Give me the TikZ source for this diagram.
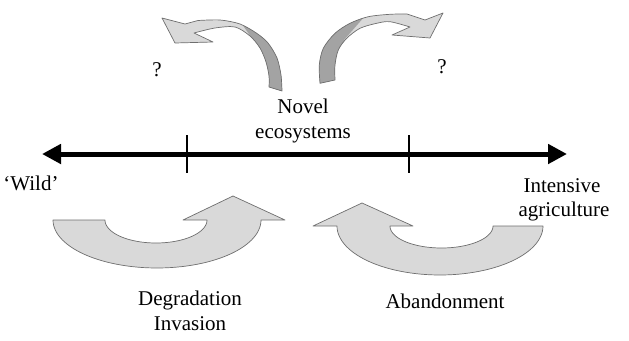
\documentclass[tikz,border=0pt]{standalone}
\usepackage{fontspec}
\setmainfont{Liberation Serif}
\usetikzlibrary{arrows.meta}
\definecolor{arrowlight}{HTML}{D9D9D9}
\definecolor{arrowdark}{HTML}{A3A3A3}
\definecolor{arrowedge}{HTML}{6E6E6E}
\begin{document}
\begin{tikzpicture}[x=1pt,y=-1pt,
  lbl/.style={font=\fontsize{21}{25}\selectfont, inner sep=0pt, anchor=base},
  axisline/.style={line width=5pt, {Triangle[length=19pt,width=19pt]}-{Triangle[length=19pt,width=19pt]}},
  tickline/.style={line width=2pt},
  bigarrow/.style={fill=arrowlight, draw=arrowedge, line width=0.7pt, line join=round},
  edgeonly/.style={draw=arrowedge, line width=0.7pt, line join=round}]
\useasboundingbox (0,0) rectangle (629,340);

% main axis
\coordinate (wildend) at (42,154);
\coordinate (intend) at (567,154);
\draw[axisline] (wildend) -- (intend);
\coordinate (tickAtop) at (187,135);
\coordinate (tickAbot) at (187,173);
\coordinate (tickBtop) at (409,135);
\coordinate (tickBbot) at (409,173);
\draw[tickline] (tickAtop) -- (tickAbot);
\draw[tickline] (tickBtop) -- (tickBbot);

% bottom left arrow (degradation / invasion)
\draw[bigarrow] plot[domain=180:360,samples=60] ({157+104*cos(\x)},{220-48*sin(\x)})
  -- (285,220) -- (233,196) -- (183,220) -- (207,220)
  -- plot[domain=360:180,samples=60] ({156+51*cos(\x)},{220-23*sin(\x)}) -- cycle;

% bottom right arrow (abandonment)
\draw[bigarrow] plot[domain=360:180,samples=60] ({440+103*cos(\x)},{226-49*sin(\x)})
  -- (313,226) -- (362,203) -- (413,226)
  -- plot[domain=180:360,samples=60] ({441.5+51.5*cos(\x)},{226-22*sin(\x)}) -- cycle;

% top left curved arrow
\def\topleftarrow{plot[smooth] coordinates {(282,91) (281,75) (277,58) (268,43) (256.7,33.3) (240,24) (220,20) (198,20.5)}
  -- (185,24) -- (162,18) -- (175,43) -- (213,42) -- (194,33)
  -- plot[smooth] coordinates {(194,33) (215,28) (235,27) (250,36) (260,48) (266,62) (269,76) (269,87)} -- cycle}
\fill[arrowlight] \topleftarrow;
\begin{scope}
  \clip \topleftarrow;
  \fill[arrowdark] (232,10) -- (300,10) -- (300,100) -- (264,100) -- (264,55) -- (256,44) -- cycle;
\end{scope}
\draw[edgeonly] \topleftarrow;

% top right curved arrow
\def\toprightarrow{plot[smooth] coordinates {(320,83.3) (319.3,65) (323.3,48.3) (335,33.3) (350,23.3) (368.3,16.7) (390,14.3) (407,14)}
  -- (425,20) -- (443,13) -- (430,38) -- (392,35) -- (410,27)
  -- plot[smooth] coordinates {(410,27) (390,21.7) (376.7,23.3) (360,28.3) (346.7,38.3) (338.3,50) (335,65) (335,80)} -- cycle}
\fill[arrowlight] \toprightarrow;
\begin{scope}
  \clip \toprightarrow;
  \fill[arrowdark] (300,0) -- (372,8) -- (344,40) -- (338,60) -- (340,100) -- (300,100) -- cycle;
\end{scope}
\draw[edgeonly] \toprightarrow;

% labels
\node[lbl] (qleft) at (157,76) {?};
\node[lbl] (qright) at (442,73) {?};
\node[lbl] (novel) at (303,113) {Novel};
\node[lbl] (ecosys) at (303,138) {ecosystems};
\node[lbl] (wild) at (31,190) {‘Wild’};
\node[lbl] (intensive) at (562,192) {Intensive};
\node[lbl] (agri) at (564,216) {agriculture};
\node[lbl] (degr) at (190,305) {Degradation};
\node[lbl] (inva) at (190,330) {Invasion};
\node[lbl] (aband) at (445,308) {Abandonment};
\end{tikzpicture}
\end{document}
